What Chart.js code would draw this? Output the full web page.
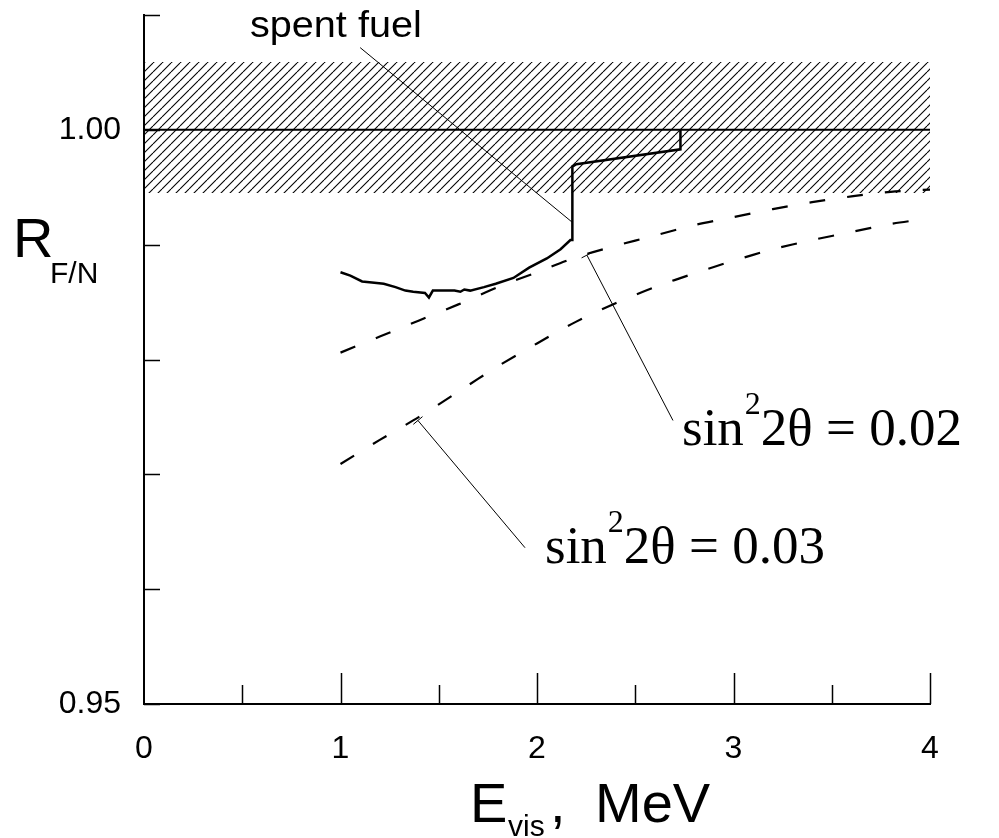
<!DOCTYPE html>
<html>
<head>
<meta charset="utf-8">
<script src="https://cdn.jsdelivr.net/npm/chart.js@4/dist/chart.umd.min.js"></script>
<style>
  html, body { margin: 0; padding: 0; background: #fff; }
</style>
</head>
<body>
<canvas id="canvas" width="999" height="838"></canvas>
<script>
// measured ratio for the spent fuel case
const fuelE = [1.00, 1.05, 1.11, 1.16, 1.22, 1.28, 1.33, 1.37, 1.43, 1.45, 1.47, 1.53, 1.58, 1.61, 1.63, 1.66, 1.73, 1.79, 1.88, 1.96, 2.05, 2.12, 2.17, 2.18, 2.18, 2.20, 2.73, 2.73];
const fuelR = [0.9876, 0.9873, 0.9868, 0.9867, 0.9866, 0.9863, 0.9860, 0.9859, 0.9858, 0.9854, 0.9860, 0.9860, 0.9860, 0.9859, 0.9861, 0.9860, 0.9863, 0.9866, 0.9871, 0.9880, 0.9888, 0.9896, 0.9904, 0.9904, 0.9968, 0.9970, 0.9983, 1.0000];

// oscillation curves
const oscE = [1.0, 1.2, 1.4, 1.6, 1.8, 2.0, 2.2, 2.4, 2.6, 2.8, 3.0, 3.2, 3.4, 3.6, 3.8, 4.0];
const osc002 = [0.9806, 0.9820, 0.9834, 0.9848, 0.9863, 0.9876, 0.9889, 0.9899, 0.9908, 0.9917, 0.9924, 0.9931, 0.9937, 0.9942, 0.9946, 0.9948];
const osc003 = [0.9709, 0.9730, 0.9750, 0.9772, 0.9794, 0.9814, 0.9833, 0.9849, 0.9863, 0.9875, 0.9886, 0.9896, 0.9904, 0.9911, 0.9918, 0.9923];

// no-oscillation line and error band
const unityE = [0, 4];
const unityR = [1.0, 1.0];
const bandTop = 1.0059;
const bandBottom = 0.9945;

// axes
const xTicks = [0, 1, 2, 3, 4];
const xMinorTicks = [0.5, 1.5, 2.5, 3.5];
const yTicks = [0.95, 0.96, 0.97, 0.98, 0.99, 1.00];
const yTickLabels = ['0.95', '', '', '', '', '1.00'];
const yTop = 1.01;

// label pointers, in data units [from, to]
const pointers = [
  { from: [1.10, 1.00716], to: [2.178, 0.99197], cap: false },
  { from: [2.254, 0.98909], to: [2.692, 0.97469], cap: true },
  { from: [1.394, 0.97469], to: [1.939, 0.96361], cap: true }
];

function pts(xs, ys) {
  return xs.map((v, i) => ({ x: v, y: ys[i] }));
}

// hatch pattern for the band
function makeHatch() {
  const w = 9, h = 9;
  const c = document.createElement('canvas');
  c.width = w; c.height = h;
  const g = c.getContext('2d');
  g.strokeStyle = '#000';
  g.lineWidth = 1.1;
  for (const off of [-w, 0, w]) {
    g.beginPath();
    g.moveTo(off, h);
    g.lineTo(off + w, 0);
    g.stroke();
  }
  return g.createPattern(c, 'repeat');
}

const extras = {
  id: 'extras',
  afterDraw(chart) {
    const ctx = chart.ctx;
    const x = chart.scales.x, y = chart.scales.y;
    ctx.save();
    ctx.strokeStyle = '#000';

    // inward tick marks
    ctx.lineWidth = 1.5;
    ctx.beginPath();
    yTicks.concat([yTop]).forEach(v => {
      const py = Math.round(y.getPixelForValue(v)) + 0.5;
      ctx.moveTo(x.left, py);
      ctx.lineTo(x.left + 16, py);
    });
    xTicks.slice(1).forEach(v => {
      const px = Math.round(x.getPixelForValue(v)) + 0.5;
      ctx.moveTo(px, y.bottom);
      ctx.lineTo(px, y.bottom - 31);
    });
    xMinorTicks.forEach(v => {
      const px = Math.round(x.getPixelForValue(v)) + 0.5;
      ctx.moveTo(px, y.bottom);
      ctx.lineTo(px, y.bottom - 19);
    });
    ctx.stroke();

    // pointers
    ctx.lineWidth = 1;
    pointers.forEach(p => {
      const x1 = x.getPixelForValue(p.from[0]), y1 = y.getPixelForValue(p.from[1]);
      const x2 = x.getPixelForValue(p.to[0]), y2 = y.getPixelForValue(p.to[1]);
      ctx.beginPath();
      ctx.moveTo(x1, y1);
      ctx.lineTo(x2, y2);
      if (p.cap) {
        const len = Math.hypot(x2 - x1, y2 - y1);
        const nx = -(y2 - y1) / len * 6, ny = (x2 - x1) / len * 6;
        ctx.moveTo(x1 - nx, y1 - ny);
        ctx.lineTo(x1 + nx, y1 + ny);
      }
      ctx.stroke();
    });

    // texts
    ctx.fillStyle = '#000';
    ctx.textBaseline = 'alphabetic';
    ctx.textAlign = 'left';
    const sans = '"Liberation Sans", Arial, sans-serif';
    const serif = '"Liberation Serif", "Times New Roman", serif';

    ctx.save();
    ctx.translate(250, 37);
    ctx.scale(1.1, 1);
    ctx.font = '36px ' + sans;
    ctx.fillText('spent fuel', 0, 0);
    ctx.restore();

    ctx.font = '56px ' + sans;
    ctx.fillText('R', 13, 257);
    ctx.font = '30px ' + sans;
    ctx.fillText('F/N', 50, 283);

    ctx.font = '56px ' + sans;
    ctx.fillText('E', 470, 822);
    ctx.font = '30px ' + sans;
    ctx.fillText('vis', 508, 836);
    ctx.font = '56px ' + sans;
    ctx.fillText(',', 550, 822);
    ctx.fillText('MeV', 595, 822);

    function sinLabel(px, py, rest) {
      ctx.font = '53px ' + serif;
      ctx.fillText('sin', px, py);
      let w = ctx.measureText('sin').width;
      ctx.font = '32px ' + serif;
      ctx.fillText('2', px + w + 1, py - 31);
      w += ctx.measureText('2').width + 1;
      ctx.font = '53px ' + serif;
      ctx.fillText(rest, px + w, py);
    }
    sinLabel(682, 445, '2\u03b8 = 0.02');
    sinLabel(545, 563, '2\u03b8 = 0.03');

    ctx.restore();
  }
};

Chart.defaults.font.family = '"Liberation Sans", Arial, sans-serif';
Chart.defaults.color = '#000';

const ctx = document.getElementById('canvas').getContext('2d');
const myChart = new Chart(ctx, {
  type: 'scatter',
  data: {
    datasets: [
      {
        label: 'spent fuel',
        data: pts(fuelE, fuelR),
        showLine: true,
        borderColor: '#000',
        borderWidth: 2.5,
        pointRadius: 0,
        tension: 0
      },
      {
        label: 'no oscillation',
        data: pts(unityE, unityR),
        showLine: true,
        borderColor: '#000',
        borderWidth: 2,
        pointRadius: 0
      },
      {
        label: 'sin2 2theta = 0.02',
        data: pts(oscE, osc002),
        showLine: true,
        borderColor: '#000',
        borderWidth: 2.2,
        borderDash: [16, 22],
        pointRadius: 0,
        tension: 0.3
      },
      {
        label: 'sin2 2theta = 0.03',
        data: pts(oscE, osc003),
        showLine: true,
        borderColor: '#000',
        borderWidth: 2.2,
        borderDash: [16, 22],
        pointRadius: 0,
        tension: 0.3
      },
      {
        label: 'band',
        data: pts(unityE, [bandTop, bandTop]),
        showLine: true,
        borderWidth: 0,
        borderColor: 'rgba(0,0,0,0)',
        pointRadius: 0,
        backgroundColor: makeHatch(),
        fill: { value: bandBottom }
      }
    ]
  },
  options: {
    responsive: false,
    animation: false,
    layout: { padding: { left: 0, right: 69, top: 15, bottom: 0 } },
    plugins: {
      legend: { display: false },
      tooltip: { enabled: false }
    },
    scales: {
      x: {
        type: 'linear',
        min: 0,
        max: 4,
        afterFit: s => { s.height = 134; s.paddingLeft = 0; s.paddingRight = 0; },
        afterBuildTicks: s => { s.ticks = xTicks.map(v => ({ value: v })); },
        grid: { display: false },
        border: { display: true, color: '#000', width: 2 },
        ticks: {
          font: { size: 32 },
          padding: 18,
          maxRotation: 0,
          autoSkip: false,
          callback: v => String(v)
        }
      },
      y: {
        type: 'linear',
        min: 0.95,
        max: yTop,
        afterFit: s => { s.width = 144; s.paddingTop = 0; s.paddingBottom = 0; },
        afterBuildTicks: s => { s.ticks = yTicks.map(v => ({ value: v })); },
        grid: { display: false },
        border: { display: true, color: '#000', width: 2 },
        ticks: {
          font: { size: 32 },
          padding: 15,
          autoSkip: false,
          callback: (v, i) => yTickLabels[i]
        }
      }
    }
  },
  plugins: [extras]
});
</script>
</body>
</html>
